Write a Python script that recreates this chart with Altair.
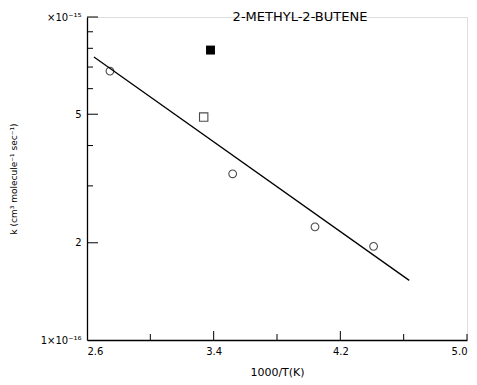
import altair as alt
import pandas as pd

# data points
circ_x = [2.745, 3.52, 4.04, 4.41]
circ_y = [6.8e-16, 3.27e-16, 2.24e-16, 1.95e-16]
osq_x = [3.337]
osq_y = [4.9e-16]
fsq_x = [3.38]
fsq_y = [7.9e-16]
line_x = [2.644, 4.635]
line_y = [7.52e-16, 1.53e-16]

x_major = [2.6, 3.4, 4.2, 5.0]
x_ticks_long = [3.4, 4.2]
x_ticks_short = [3.0, 3.8, 4.6, 5.0]
y_labels = [1e-16, 2e-16, 5e-16, 1e-15]
y_ticks_long = [2e-16, 5e-16, 1e-15]
y_ticks_short = [3e-16, 4e-16, 6e-16, 7e-16, 8e-16, 9e-16]

W, H = 380, 323
FONT = "DejaVu Sans"

xs = alt.Scale(domain=[2.6, 5.0], nice=False, zero=False)
ys = alt.Scale(type="log", domain=[1e-16, 1e-15], nice=False)

circles = pd.DataFrame({"x": circ_x, "y": circ_y})
osq = pd.DataFrame({"x": osq_x, "y": osq_y})
fsq = pd.DataFrame({"x": fsq_x, "y": fsq_y})
fit = pd.DataFrame({"x": line_x, "y": line_y})

label_expr = ("datum.value < 1.5e-16 ? '1×10⁻¹⁶' : datum.value < 3e-16 ? '2' : "
              "datum.value < 7e-16 ? '5' : '×10⁻¹⁵'")

base_line = alt.Chart(fit).mark_line(color="black", strokeWidth=1.3).encode(
    x=alt.X("x:Q", scale=xs,
            axis=alt.Axis(title="1000/T(K)", values=x_major, format=".1f", ticks=False,
                          grid=False, domainColor="black", domainWidth=1.3,
                          labelFont=FONT, labelFontSize=10, labelColor="black",
                          labelPadding=6, titleFont=FONT, titleFontSize=11,
                          titleFontWeight="normal", titleColor="black", titlePadding=10)),
    y=alt.Y("y:Q", scale=ys,
            axis=alt.Axis(title="k (cm³ molecule⁻¹ sec⁻¹)", values=y_labels,
                          labelExpr=label_expr, ticks=False, grid=False,
                          domainColor="black", domainWidth=1.3,
                          labelFont=FONT, labelFontSize=10, labelColor="black",
                          labelPadding=6, titleFont=FONT, titleFontSize=9,
                          titleFontWeight="normal", titleColor="black", titlePadding=22)),
)

pts = alt.Chart(circles).mark_point(shape="circle", size=60, filled=False,
                                    color="black", strokeWidth=1.1).encode(
    x=alt.X("x:Q", scale=xs), y=alt.Y("y:Q", scale=ys))
sq_open = alt.Chart(osq).mark_point(shape="square", size=70, filled=False,
                                    color="black", strokeWidth=1.1).encode(
    x=alt.X("x:Q", scale=xs), y=alt.Y("y:Q", scale=ys))
sq_fill = alt.Chart(fsq).mark_point(shape="square", size=80, filled=True,
                                    color="black", opacity=1).encode(
    x=alt.X("x:Q", scale=xs), y=alt.Y("y:Q", scale=ys))

xtl = alt.Chart(pd.DataFrame({"x": x_ticks_long})).mark_rule(color="black", strokeWidth=1).encode(
    x=alt.X("x:Q", scale=xs), y=alt.value(H), y2=alt.value(H - 9))
xts = alt.Chart(pd.DataFrame({"x": x_ticks_short})).mark_rule(color="black", strokeWidth=1).encode(
    x=alt.X("x:Q", scale=xs), y=alt.value(H), y2=alt.value(H - 6))
ytl = alt.Chart(pd.DataFrame({"y": y_ticks_long})).mark_rule(color="black", strokeWidth=1).encode(
    y=alt.Y("y:Q", scale=ys), x=alt.value(0), x2=alt.value(11))
yts = alt.Chart(pd.DataFrame({"y": y_ticks_short})).mark_rule(color="black", strokeWidth=1).encode(
    y=alt.Y("y:Q", scale=ys), x=alt.value(0), x2=alt.value(6))

title = alt.Chart(pd.DataFrame({"t": ["2-METHYL-2-BUTENE"]})).mark_text(
    font=FONT, fontSize=13, color="black", align="center", baseline="middle"
).encode(x=alt.value(213), y=alt.value(0), text="t:N")

chart = alt.layer(base_line, pts, sq_open, sq_fill, xtl, xts, ytl, yts, title).properties(
    width=W, height=H,
    padding={"left": 87, "top": 17, "right": 10, "bottom": 45},
    autosize=alt.AutoSizeParams(type="none"),
).configure_view(stroke=None).configure(background="white")

chart.save("out.html", embed_options={"renderer": "svg", "actions": False})
